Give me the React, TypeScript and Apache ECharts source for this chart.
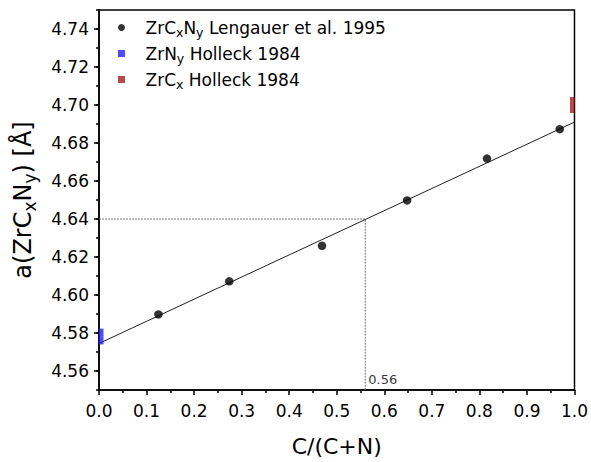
import React, { useEffect, useRef } from "react";
import * as echarts from "echarts";

const lengauerX = [0.125, 0.274, 0.469, 0.648, 0.816, 0.969];
const lengauerY = [4.5898, 4.6072, 4.6259, 4.6498, 4.6718, 4.6873];
const zrNX = [0, 0];
const zrNY = [4.5761, 4.5802];
const zrCX = [1, 1];
const zrCY = [4.6979, 4.7021];
const fitX = [0, 1];
const fitY = [4.5745, 4.6910];
const guideX = [0, 0.56, 0.56];
const guideY = [4.64, 4.64, 4.55];
const guideLabel = "0.56";

const names = [
  "ZrCxNy Lengauer et al. 1995",
  "ZrNy Holleck 1984",
  "ZrCx Holleck 1984",
];
const richNames: Record<string, string> = {
  [names[0]]: "ZrC{sub|x}N{sub|y} Lengauer et al. 1995",
  [names[1]]: "ZrN{sub|y} Holleck 1984",
  [names[2]]: "ZrC{sub|x} Holleck 1984",
};

const zip = (xs: number[], ys: number[]) => xs.map((x, i) => [x, ys[i]]);

const SQUARE = "path://M0 0H10V10H0Z";

export default function App() {
  const ref = useRef<HTMLDivElement>(null);
  useEffect(() => {
    if (!ref.current) return;
    const chart = echarts.init(ref.current, undefined, { renderer: "svg" });
    const font = "DejaVu Sans, Liberation Sans, Arial, sans-serif";
    chart.setOption({
      animation: false,
      textStyle: { fontFamily: font, color: "#000" },
      grid: {
        left: 99,
        right: 15,
        top: 10,
        bottom: 68,
        show: true,
        borderColor: "#000",
        borderWidth: 1.5,
        containLabel: false,
      },
      legend: {
        data: [
          { name: names[0], icon: "circle" },
          { name: names[1], icon: SQUARE },
          { name: names[2], icon: SQUARE },
        ],
        orient: "vertical",
        left: 113,
        top: 14,
        itemWidth: 38,
        itemHeight: 7,
        itemGap: 6,
        symbolKeepAspect: true,
        formatter: (n: string) => richNames[n] || n,
        textStyle: {
          fontFamily: font,
          fontSize: 17,
          color: "#000",
          rich: {
            sub: { fontSize: 12.5, fontFamily: font, verticalAlign: "bottom", padding: [10, 0, 0, 0] },
          },
        },
      },
      xAxis: {
        type: "value",
        min: 0,
        max: 1,
        interval: 0.1,
        name: "C/(C+N)",
        nameLocation: "middle",
        nameGap: 45,
        nameTextStyle: { fontSize: 22, fontFamily: font, color: "#000" },
        axisLine: { show: true, lineStyle: { color: "#000", width: 1.5 } },
        axisTick: { show: true, length: 5, lineStyle: { color: "#000", width: 1.5 } },
        minorTick: { show: true, splitNumber: 2, length: 3, lineStyle: { color: "#000", width: 1.5 } },
        axisLabel: {
          fontSize: 17,
          fontFamily: font,
          color: "#000",
          margin: 12,
          formatter: (v: number) => v.toFixed(1),
        },
        splitLine: { show: false },
      },
      yAxis: [
        {
          type: "value",
          min: 4.55,
          max: 4.75,
          interval: 0.01,
          axisLine: { show: true, lineStyle: { color: "#000", width: 1.5 } },
          axisTick: { show: true, length: 3, lineStyle: { color: "#000", width: 1.5 } },
          axisLabel: { show: false },
          splitLine: { show: false },
        },
        {
          type: "value",
          min: 4.55,
          max: 4.75,
          splitNumber: 10,
          position: "left",
          name: "a(ZrC{sub|x}N{sub|y}) [Å]",
          nameLocation: "middle",
          nameRotate: 90,
          nameGap: 61,
          nameTextStyle: {
            fontSize: 24,
            fontFamily: font,
            color: "#000",
            rich: {
              sub: { fontSize: 17, fontFamily: font, verticalAlign: "bottom", padding: [13, 0, 0, 0] },
            },
          },
          axisLine: { show: false },
          axisTick: { show: true, length: 5, lineStyle: { color: "#000", width: 1.5 } },
          axisLabel: {
            fontSize: 17,
            fontFamily: font,
            color: "#000",
            margin: 10,
            showMinLabel: false,
            showMaxLabel: false,
            formatter: (v: number) => v.toFixed(2),
          },
          splitLine: { show: false },
        },
      ],
      series: [
        {
          name: "fit",
          type: "line",
          data: zip(fitX, fitY),
          showSymbol: false,
          symbol: "none",
          lineStyle: { color: "#222", width: 1 },
          silent: true,
          z: 2,
        },
        {
          name: "guide",
          type: "line",
          data: zip(guideX, guideY),
          showSymbol: false,
          symbol: "none",
          lineStyle: { color: "#777", width: 1, type: [2, 1] },
          silent: true,
          z: 1,
        },
        {
          name: "guideLabel",
          type: "scatter",
          data: [[guideX[2], guideY[2]]],
          symbolSize: 0,
          label: {
            show: true,
            formatter: guideLabel,
            position: [3, -17],
            fontSize: 13,
            fontFamily: font,
            color: "#000",
          },
          silent: true,
        },
        {
          name: names[0],
          type: "scatter",
          data: zip(lengauerX, lengauerY),
          symbol: "circle",
          symbolSize: 8.5,
          itemStyle: { color: "#000" },
          z: 3,
        },
        {
          name: names[1],
          type: "scatter",
          data: zip(zrNX, zrNY),
          symbol: "rect",
          symbolSize: [4.5, 8],
          symbolOffset: [2.25, 0],
          itemStyle: { color: "#2020ff" },
          z: 3,
        },
        {
          name: names[2],
          type: "scatter",
          data: zip(zrCX, zrCY),
          symbol: "rect",
          symbolSize: [4.5, 8],
          symbolOffset: [-2.25, 0],
          itemStyle: { color: "#a81c22" },
          z: 3,
        },
      ],
    });
    return () => chart.dispose();
  }, []);
  return (
    <div
      ref={ref}
      style={{ position: "absolute", left: 0, top: 0, width: 591, height: 462 }}
    />
  );
}
